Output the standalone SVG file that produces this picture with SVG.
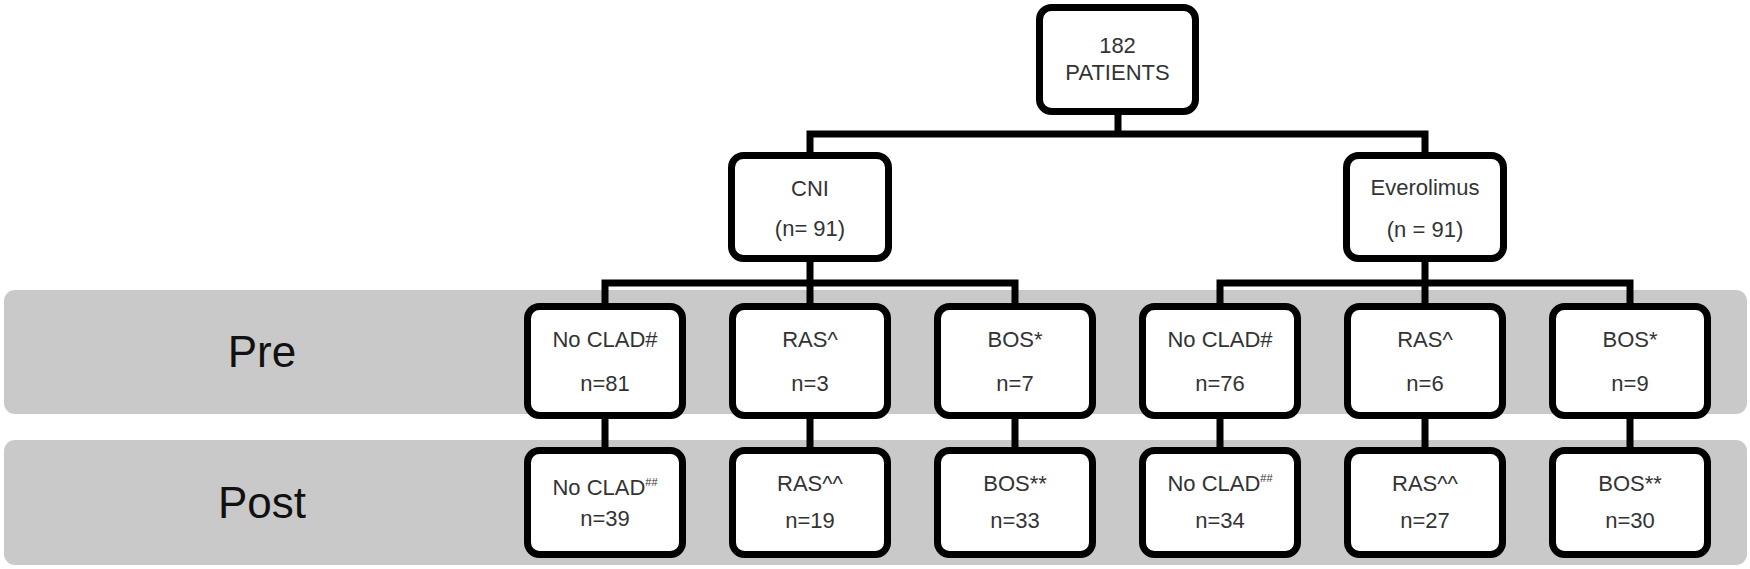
<svg xmlns="http://www.w3.org/2000/svg" width="1750" height="569" viewBox="0 0 1750 569">
<style>
.band{fill:#c9c9c9}
.box{fill:#fff;stroke:#000;stroke-width:7}
.t{font-family:"Liberation Sans",Arial,sans-serif;font-size:22px;fill:#333;text-anchor:middle}
.lbl{font-family:"Liberation Sans",Arial,sans-serif;font-size:44px;fill:#111;text-anchor:middle}
.sup{font-size:11px}
.conn{fill:none;stroke:#000;stroke-width:7;stroke-linejoin:miter}
</style>
<rect width="1750" height="569" fill="#fff"/>
<g id="band-pre"><rect class="band" x="4" y="290" width="1743" height="124" rx="11"/><text class="lbl" x="262" y="367">Pre</text></g>
<g id="band-post"><rect class="band" x="4" y="440" width="1743" height="125" rx="11"/><text class="lbl" x="262" y="518">Post</text></g>
<g id="connectors">
<path class="conn" d="M1118 115 V134 M810 152 V134 H1425 V152"/>
<path class="conn" d="M810 262 V303 M605 303 V283 H1015 V303"/>
<path class="conn" d="M1425 262 V303 M1220 303 V283 H1630 V303"/>
<path class="conn" d="M605 419 V447 M810 419 V447 M1015 419 V447 M1220 419 V447 M1425 419 V447 M1630 419 V447"/>
</g>
<g id="n-patients"><rect class="box" x="1039.5" y="7.5" width="156" height="104" rx="12"/><text class="t" x="1117.5" y="53">182</text><text class="t" x="1117.5" y="80">PATIENTS</text></g>
<g id="n-cni"><rect class="box" x="731.5" y="155.5" width="157" height="103" rx="12"/><text class="t" x="810" y="196">CNI</text><text class="t" x="810" y="236">(n= 91)</text></g>
<g id="n-ever"><rect class="box" x="1346.5" y="155.5" width="157" height="103" rx="12"/><text class="t" x="1425" y="195">Everolimus</text><text class="t" x="1425" y="237">(n = 91)</text></g>
<g id="pre-cni-noclad"><rect class="box" x="527.5" y="306.5" width="155" height="109" rx="12"/><text class="t" x="605" y="347">No CLAD#</text><text class="t" x="605" y="391">n=81</text></g>
<g id="pre-cni-ras"><rect class="box" x="732.5" y="306.5" width="155" height="109" rx="12"/><text class="t" x="810" y="347">RAS^</text><text class="t" x="810" y="391">n=3</text></g>
<g id="pre-cni-bos"><rect class="box" x="937.5" y="306.5" width="155" height="109" rx="12"/><text class="t" x="1015" y="347">BOS*</text><text class="t" x="1015" y="391">n=7</text></g>
<g id="pre-ev-noclad"><rect class="box" x="1142.5" y="306.5" width="155" height="109" rx="12"/><text class="t" x="1220" y="347">No CLAD#</text><text class="t" x="1220" y="391">n=76</text></g>
<g id="pre-ev-ras"><rect class="box" x="1347.5" y="306.5" width="155" height="109" rx="12"/><text class="t" x="1425" y="347">RAS^</text><text class="t" x="1425" y="391">n=6</text></g>
<g id="pre-ev-bos"><rect class="box" x="1552.5" y="306.5" width="155" height="109" rx="12"/><text class="t" x="1630" y="347">BOS*</text><text class="t" x="1630" y="391">n=9</text></g>
<g id="post-cni-noclad"><rect class="box" x="527.5" y="450.5" width="155" height="104" rx="12"/><text class="t" x="605" y="495">No CLAD<tspan class="sup" dy="-9">##</tspan></text><text class="t" x="605" y="526">n=39</text></g>
<g id="post-cni-ras"><rect class="box" x="732.5" y="450.5" width="155" height="104" rx="12"/><text class="t" x="810" y="491">RAS^^</text><text class="t" x="810" y="528">n=19</text></g>
<g id="post-cni-bos"><rect class="box" x="937.5" y="450.5" width="155" height="104" rx="12"/><text class="t" x="1015" y="491">BOS**</text><text class="t" x="1015" y="528">n=33</text></g>
<g id="post-ev-noclad"><rect class="box" x="1142.5" y="450.5" width="155" height="104" rx="12"/><text class="t" x="1220" y="491">No CLAD<tspan class="sup" dy="-9">##</tspan></text><text class="t" x="1220" y="528">n=34</text></g>
<g id="post-ev-ras"><rect class="box" x="1347.5" y="450.5" width="155" height="104" rx="12"/><text class="t" x="1425" y="491">RAS^^</text><text class="t" x="1425" y="528">n=27</text></g>
<g id="post-ev-bos"><rect class="box" x="1552.5" y="450.5" width="155" height="104" rx="12"/><text class="t" x="1630" y="491">BOS**</text><text class="t" x="1630" y="528">n=30</text></g>
</svg>
